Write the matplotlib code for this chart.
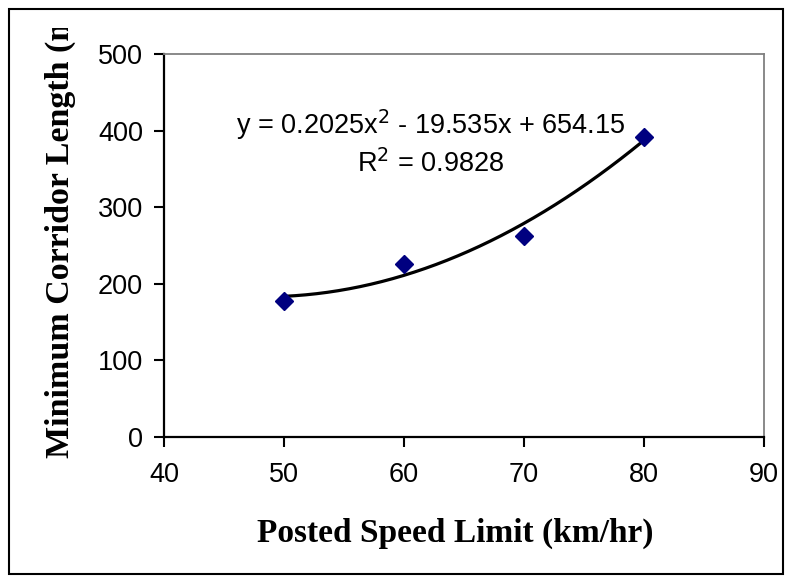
import numpy as np
import matplotlib
matplotlib.use("Agg")
import matplotlib.pyplot as plt
from matplotlib.patches import Rectangle
from matplotlib.transforms import Bbox, TransformedBbox

# data
speed = [50, 60, 70, 80]
corridor = [178, 226, 262, 392]
# trendline coefficients as printed on the chart
trend_coef = [0.2025, -19.535, 654.15]
trend_label = "y = 0.2025x$^2$ - 19.535x + 654.15"
r2_label = "R$^2$ = 0.9828"

x_ticks = [40, 50, 60, 70, 80, 90]
y_ticks = [0, 100, 200, 300, 400, 500]

W, H = 792, 583
fig = plt.figure(figsize=(W / 100, H / 100), dpi=100)
ax = fig.add_axes([164 / W, 1 - 437 / H, 600 / W, 383 / H])

sans = "Liberation Sans"
serif = "Liberation Serif"

# trendline
xs = np.linspace(speed[0], speed[-1], 200)
ax.plot(xs, np.polyval(trend_coef, xs), color="black", lw=2.3, zorder=2)
ax.plot(speed, corridor, linestyle="none", marker="D", ms=9.5,
        color="#000080", zorder=3)

ax.set_xlim(40, 90)
ax.set_ylim(0, 500)
ax.set_xticks(x_ticks)
ax.set_yticks(y_ticks)
ax.tick_params(direction="out", length=7, width=1.5, labelsize=19.5)
ax.tick_params(axis="y", pad=8)
ax.tick_params(axis="x", pad=11)
for lab in ax.get_xticklabels() + ax.get_yticklabels():
    lab.set_fontfamily(sans)

for side in ["left", "bottom"]:
    ax.spines[side].set_linewidth(1.6)
    ax.spines[side].set_color("black")
for side in ["top", "right"]:
    ax.spines[side].set_linewidth(1.3)
    ax.spines[side].set_color("#808080")

ax.text(62.2, 408, trend_label, ha="center", va="center",
        fontsize=19.5, fontfamily=sans)
ax.text(62.2, 357, r2_label, ha="center", va="center",
        fontsize=19.5, fontfamily=sans)

fig.text(455 / W, 1 - 533 / H, "Posted Speed Limit (km/hr)",
         ha="center", va="center", fontsize=24, fontweight="bold",
         fontfamily=serif)

# chart area border
bx0, by0, bx1, by1 = 9 / W, 9 / H, 1 - 9 / W, 1 - 9 / H
fig.patches.append(Rectangle((bx0, by0), bx1 - bx0, by1 - by0,
                             transform=fig.transFigure, fill=False,
                             edgecolor="black", lw=1.5))

# axis title is cut off near the top, as in the original
ylab = fig.text(60 / W, 1 - 229 / H, "Minimum Corridor Length (m)",
                ha="center", va="center", rotation=90, fontsize=24.5,
                fontweight="bold", fontfamily=serif)
ylab.set_clip_box(TransformedBbox(Bbox([[bx0, by0], [bx1, 1 - 28 / H]]),
                                  fig.transFigure))
ylab.set_clip_on(True)

fig.savefig("out.png", dpi=100)
